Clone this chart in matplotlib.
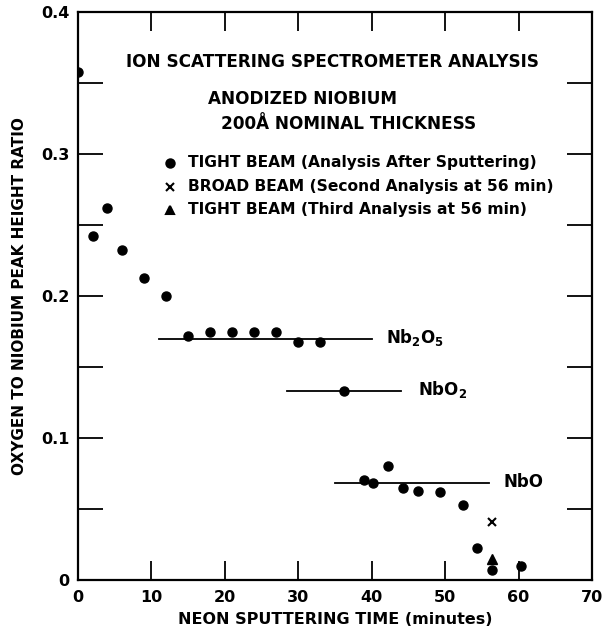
import matplotlib
matplotlib.use("Agg")
import matplotlib.pyplot as plt
from matplotlib.ticker import MultipleLocator, FuncFormatter

# ---- data ----
tight_t = [0, 2, 4, 6, 9, 12, 15, 18, 21, 24, 27, 30, 33, 36.3,
           39, 40.2, 42.2, 44.2, 46.3, 49.3, 52.4, 54.3, 56.4, 60.4]
tight_y = [0.358, 0.242, 0.262, 0.2325, 0.2125, 0.200, 0.172, 0.175, 0.175,
           0.175, 0.175, 0.168, 0.168, 0.133,
           0.0704, 0.068, 0.0806, 0.065, 0.0625, 0.062, 0.0527, 0.0223,
           0.0073, 0.0096]
broad_t = [56.4]
broad_y = [0.041]
third_t = [56.4]
third_y = [0.015]

phase_names = ["Nb$_2$O$_5$", "NbO$_2$", "NbO"]
phase_level = [0.170, 0.133, 0.068]
phase_start = [11, 28.5, 35]
phase_end = [40, 44, 56]
phase_label_t = [42.0, 46.3, 58.0]

x_ticks = [0, 10, 20, 30, 40, 50, 60, 70]
y_label_ticks = [0, 0.1, 0.2, 0.3, 0.4]

plt.rcParams['font.family'] = ['DejaVu Sans']
plt.rcParams['font.weight'] = 'bold'
plt.rcParams['mathtext.default'] = 'bf'

fig = plt.figure(figsize=(6.09, 6.33), dpi=100)
ax = fig.add_axes([0.128, 0.0837, 0.844, 0.897])

ax.plot(tight_t, tight_y, 'o', color='black', ms=6.5, zorder=3)
ax.plot(broad_t, broad_y, 'x', color='black', ms=6, mew=1.5, zorder=3)
ax.plot(third_t, third_y, '^', color='black', ms=6.5, zorder=3)

for name, lev, s, e, lt in zip(phase_names, phase_level, phase_start, phase_end, phase_label_t):
    ax.plot([s, e], [lev, lev], color='black', lw=1.3)
    ax.text(lt, lev + 0.001, name, fontsize=12, fontweight='bold', va='center', ha='left')

ax.set_xlim(0, 70)
ax.set_ylim(0, 0.4)
ax.xaxis.set_major_locator(MultipleLocator(10))
ax.yaxis.set_major_locator(MultipleLocator(0.05))

def yfmt(v, pos):
    for t in y_label_ticks:
        if abs(v - t) < 1e-6:
            return "0" if t == 0 else f"{t:.1f}"
    return ""

ax.yaxis.set_major_formatter(FuncFormatter(yfmt))
ax.xaxis.set_major_formatter(FuncFormatter(lambda v, p: f"{int(round(v))}"))
ax.tick_params(axis='x', direction='in', length=14, width=1.3, top=True, labelsize=11.5, pad=7)
ax.tick_params(axis='y', direction='in', length=18, width=1.3, right=True, labelsize=11.5, pad=6)
for lbl in ax.get_xticklabels() + ax.get_yticklabels():
    lbl.set_fontweight('bold')
for sp in ax.spines.values():
    sp.set_linewidth(1.6)

ax.set_xlabel("NEON SPUTTERING TIME (minutes)", fontsize=11.5, fontweight='bold', labelpad=5)
ax.set_ylabel("OXYGEN TO NIOBIUM PEAK HEIGHT RATIO", fontsize=11, fontweight='bold', labelpad=10)

ax.text(34.6, 0.365, "ION SCATTERING SPECTROMETER ANALYSIS", fontsize=12.2,
        fontweight='bold', ha='center', va='center')
ax.text(30.6, 0.339, "ANODIZED NIOBIUM", fontsize=12.2, fontweight='bold', ha='center', va='center')
ax.text(36.8, 0.321, "200Å NOMINAL THICKNESS", fontsize=12.2, fontweight='bold',
        ha='center', va='center')

leg_y = [0.294, 0.277, 0.261]
leg_text = ["TIGHT BEAM (Analysis After Sputtering)",
            "BROAD BEAM (Second Analysis at 56 min)",
            "TIGHT BEAM (Third Analysis at 56 min)"]
leg_marker = ['o', 'x', '^']
for yy, tx, mk in zip(leg_y, leg_text, leg_marker):
    ax.plot([12.6], [yy], mk, color='black', ms=6 if mk != 'x' else 5.5, mew=1.5)
    ax.text(15.0, yy, tx, fontsize=11.2, fontweight='bold', va='center', ha='left')

fig.savefig("out.png", dpi=100)
